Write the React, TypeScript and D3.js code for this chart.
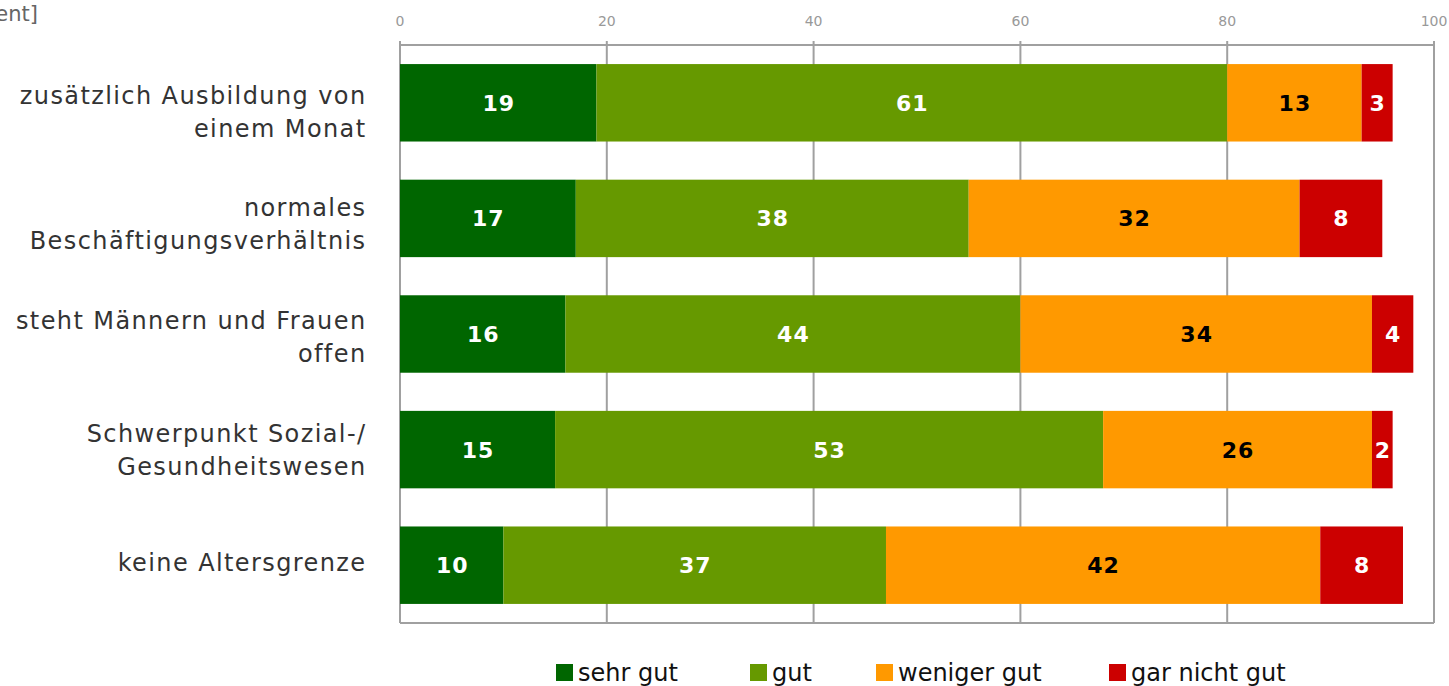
import React from "react";
import * as d3 from "d3";

const categories: string[][] = [
  ["zusätzlich Ausbildung von", "einem Monat"],
  ["normales", "Beschäftigungsverhältnis"],
  ["steht Männern und Frauen", "offen"],
  ["Schwerpunkt Sozial-/", "Gesundheitswesen"],
  ["keine Altersgrenze"],
];
const seriesNames = ["sehr gut", "gut", "weniger gut", "gar nicht gut"];
const sehrGut = [19, 17, 16, 15, 10];
const gut = [61, 38, 44, 53, 37];
const wenigerGut = [13, 32, 34, 26, 42];
const garNichtGut = [3, 8, 4, 2, 8];
const tickValues = [0, 20, 40, 60, 80, 100];
const colors = ["#006600", "#669900", "#FF9900", "#CC0000"];
const labelColors = ["#ffffff", "#ffffff", "#000000", "#ffffff"];

const W = 1449;
const H = 686;
const left = 400;
const right = 1434;
const top = 45;
const bottom = 623;

export default function App() {
  const series = [sehrGut, gut, wenigerGut, garNichtGut];
  const x = d3.scaleLinear().domain([0, 100]).range([left, right]);
  const y = d3
    .scaleBand<number>()
    .domain(categories.map((_, i) => i))
    .range([top, bottom])
    .paddingInner(0.33)
    .paddingOuter(0.165);
  // category label centres (Excel spreads them slightly tighter than the bars)
  const yLab = d3
    .scaleLinear()
    .domain([0, categories.length - 1])
    .range([112, 563]);
  const rows = categories.map((_, i) => {
    let acc = 0;
    return series.map((s, k) => {
      const x0 = acc;
      acc += s[i];
      return { k, x0, x1: acc, v: s[i] };
    });
  });
  const font = "'DejaVu Sans', Verdana, sans-serif";
  const legendX = [556, 750, 876, 1109];
  return (
    <svg
      width={W}
      height={H}
      style={{ position: "absolute", left: 0, top: 0, background: "#fff" }}
      fontFamily={font}
    >
      <text x={38} y={21} textAnchor="end" fontSize={21} fill="#666">
        [in Prozent]
      </text>
      {tickValues.map((t) => (
        <g key={t}>
          <line x1={x(t)} x2={x(t)} y1={top - 4} y2={bottom} stroke="#a0a0a0" strokeWidth={2} />
          <text x={x(t)} y={26} textAnchor="middle" fontSize={14} fill="#999">
            {t}
          </text>
        </g>
      ))}
      <line x1={left} x2={right} y1={top} y2={top} stroke="#a0a0a0" strokeWidth={2} />
      <line x1={left} x2={right} y1={bottom} y2={bottom} stroke="#a0a0a0" strokeWidth={2} />
      {rows.map((segs, i) => (
        <g key={i}>
          {segs.map((s) => (
            <rect
              key={s.k}
              x={x(s.x0)}
              y={y(i)!}
              width={x(s.x1) - x(s.x0)}
              height={y.bandwidth()}
              fill={colors[s.k]}
            />
          ))}
          {segs.map((s) => (
            <text
              key={"t" + s.k}
              x={(x(s.x0) + x(s.x1)) / 2 + 0.5}
              y={y(i)! + y.bandwidth() / 2 + 8}
              textAnchor="middle"
              fontSize={22}
              fontWeight="bold"
              letterSpacing={1}
              fill={labelColors[s.k]}
            >
              {s.v}
            </text>
          ))}
          {categories[i].map((line, j) => {
            const n = categories[i].length;
            const cy = yLab(i);
            return (
              <text
                key={"c" + j}
                x={366.5}
                y={cy + (j - (n - 1) / 2) * 33 + 8}
                textAnchor="end"
                fontSize={24}
                letterSpacing={1.4}
                fill="#333"
              >
                {line}
              </text>
            );
          })}
        </g>
      ))}
      {seriesNames.map((name, k) => (
        <g key={name}>
          <rect x={legendX[k]} y={664} width={17} height={17} fill={colors[k]} />
          <text x={legendX[k] + 22} y={681} fontSize={24} fill="#111">
            {name}
          </text>
        </g>
      ))}
    </svg>
  );
}
